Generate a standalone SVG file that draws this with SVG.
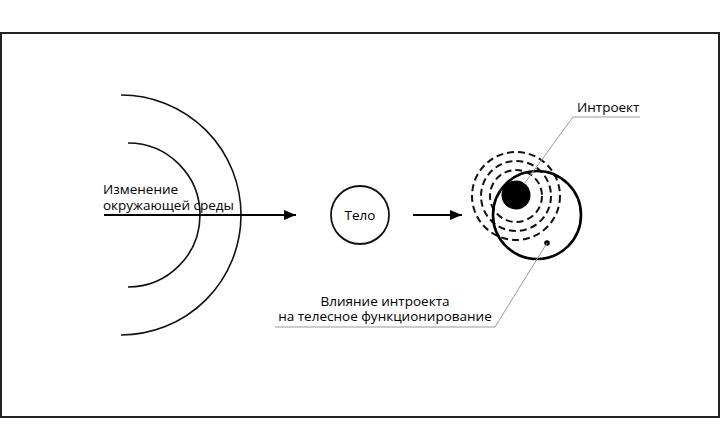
<svg xmlns="http://www.w3.org/2000/svg" width="720" height="431" viewBox="0 0 720 431">
<defs>
<marker id="ah" viewBox="0 0 12 10" refX="12" refY="5" markerWidth="12" markerHeight="10" markerUnits="userSpaceOnUse" orient="auto"><path d="M0,0 L12,5 L0,10 Z" fill="#000"/></marker>
</defs>
<style>
text{font-family:"Open Sans","Noto Sans","Liberation Sans",sans-serif;font-size:13.5px;fill:#000}
.arc{fill:none;stroke:#111;stroke-width:1.6}
.dash{fill:none;stroke:#111;stroke-width:2;stroke-dasharray:7 4}
.lead{fill:none;stroke:#999;stroke-width:1}
.arr{stroke:#000;stroke-width:2;fill:none}
</style>
<rect x="1" y="33" width="718" height="384" fill="#fff" stroke="#222" stroke-width="2"/>
<g id="environment">
<path class="arc" d="M121,95 A120,120 0 0 1 121,335"/>
<path class="arc" d="M128,143 A72,72 0 0 1 128,287"/>
<text x="103" y="194">Изменение</text>
<text x="103" y="210">окружающей среды</text>
</g>
<g id="body">
<circle cx="360" cy="215" r="29" fill="none" stroke="#111" stroke-width="1.8"/>
<text x="360" y="220" text-anchor="middle">Тело</text>
</g>
<g id="introject">
<circle class="dash" cx="516" cy="196" r="44"/>
<circle class="dash" cx="516" cy="196" r="35"/>
<circle class="dash" cx="516" cy="196" r="26"/>
<circle cx="537" cy="215" r="44" fill="none" stroke="#000" stroke-width="2.6"/>
<circle cx="516" cy="195" r="14.5" fill="#000"/>
<circle cx="547" cy="243" r="2.8" fill="#000"/>
<text x="577" y="112">Интроект</text>
</g>
<g id="influence">
<text x="385" y="306" text-anchor="middle">Влияние интроекта</text>
<text x="385" y="321" text-anchor="middle">на телесное функционирование</text>
</g>
<g id="connectors">
<line class="arr" x1="104" y1="215" x2="296" y2="215" marker-end="url(#ah)"/>
<line class="arr" x1="413" y1="215" x2="462" y2="215" marker-end="url(#ah)"/>
<polyline class="lead" points="640,117 573,117 524,184"/>
<polyline class="lead" points="547,243 495,327 275,327"/>
</g>
</svg>
